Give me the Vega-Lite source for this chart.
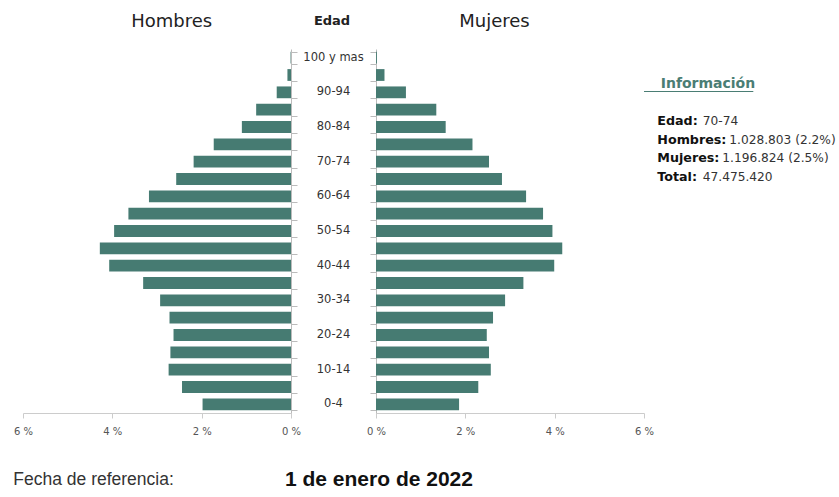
{
  "$schema": "https://vega.github.io/schema/vega-lite/v6.json",
  "padding": {"left": 13, "top": 13, "right": 0, "bottom": 0},
  "background": "white",
  "config": {"view": {"stroke": null}, "font": "DejaVu Sans"},
  "datasets": {
    "piramide": [
      {"edad": "100 y mas", "hombres": 0.01, "mujeres": 0.02},
      {"edad": "95-99", "hombres": 0.08, "mujeres": 0.19},
      {"edad": "90-94", "hombres": 0.32, "mujeres": 0.67},
      {"edad": "85-89", "hombres": 0.78, "mujeres": 1.35},
      {"edad": "80-84", "hombres": 1.10, "mujeres": 1.56},
      {"edad": "75-79", "hombres": 1.73, "mujeres": 2.16},
      {"edad": "70-74", "hombres": 2.18, "mujeres": 2.53},
      {"edad": "65-69", "hombres": 2.57, "mujeres": 2.82},
      {"edad": "60-64", "hombres": 3.18, "mujeres": 3.36},
      {"edad": "55-59", "hombres": 3.64, "mujeres": 3.74},
      {"edad": "50-54", "hombres": 3.96, "mujeres": 3.95},
      {"edad": "45-49", "hombres": 4.28, "mujeres": 4.17},
      {"edad": "40-44", "hombres": 4.07, "mujeres": 3.99},
      {"edad": "35-39", "hombres": 3.31, "mujeres": 3.30},
      {"edad": "30-34", "hombres": 2.93, "mujeres": 2.89},
      {"edad": "25-29", "hombres": 2.72, "mujeres": 2.62},
      {"edad": "20-24", "hombres": 2.63, "mujeres": 2.48},
      {"edad": "15-19", "hombres": 2.70, "mujeres": 2.53},
      {"edad": "10-14", "hombres": 2.74, "mujeres": 2.57},
      {"edad": "5-9", "hombres": 2.44, "mujeres": 2.29},
      {"edad": "0-4", "hombres": 1.98, "mujeres": 1.86}
    ],
    "info": [
      {"clave": "Información", "etiqueta": "Información", "valor": ""},
      {"clave": "Edad", "etiqueta": "Edad:", "valor": "70-74"},
      {"clave": "Hombres", "etiqueta": "Hombres:", "valor": "1.028.803 (2.2%)"},
      {"clave": "Mujeres", "etiqueta": "Mujeres:", "valor": "1.196.824 (2.5%)"},
      {"clave": "Total", "etiqueta": "Total:", "valor": "47.475.420"}
    ],
    "pie": [
      {"tipo": "etiqueta", "texto": "Fecha de referencia:"},
      {"tipo": "fecha", "texto": "1 de enero de 2022"}
    ]
  },
  "columns": 4,
  "align": "none",
  "bounds": "flush",
  "spacing": {"row": 57, "column": 0},
  "concat": [
    {
      "width": 268,
      "height": 364,
      "data": {"name": "piramide"},
      "title": {"text": "Hombres", "font": "DejaVu Sans", "fontSize": 18, "fontWeight": "normal", "color": "#222", "dx": 14.7, "offset": 3.8, "baseline": "alphabetic"},
      "mark": {"type": "bar", "color": "#467b72"},
      "encoding": {
        "y": {"field": "edad", "type": "nominal", "sort": null,
              "scale": {"paddingInner": 0.32, "paddingOuter": 0.16},
              "axis": {"orient": "right", "title": null, "labels": false, "ticks": true, "tickBand": "extent", "tickSize": 6, "tickColor": "#bbb", "domainColor": "#bbb", "grid": false}},
        "x": {"field": "hombres", "type": "quantitative",
              "scale": {"domain": [0, 6], "reverse": true, "nice": false},
              "axis": {"values": [0, 2, 4, 6], "labelExpr": "datum.value + ' %'", "title": null, "grid": false, "domainColor": "#ccc", "tickColor": "#ccc", "tickSize": 5, "labelFont": "DejaVu Sans", "labelFontSize": 10, "labelColor": "#555", "labelPadding": 8, "labelFlush": false, "labelOverlap": false}}
      }
    },
    {
      "width": 85,
      "height": 364,
      "data": {"name": "piramide"},
      "title": {"text": "Edad", "font": "DejaVu Sans", "fontSize": 13, "fontWeight": "bold", "color": "#222", "dx": -1.5, "offset": 10.8, "baseline": "alphabetic"},
      "mark": {"type": "text", "font": "DejaVu Sans", "fontSize": 11.5, "color": "#333", "baseline": "middle"},
      "encoding": {
        "y": {"field": "edad", "type": "nominal", "sort": null, "axis": null},
        "text": {"condition": {"test": "test(regexp('^[0-9]*0[- ]'), datum.edad)", "field": "edad"}, "value": ""}
      }
    },
    {
      "width": 268,
      "height": 364,
      "data": {"name": "piramide"},
      "title": {"text": "Mujeres", "font": "DejaVu Sans", "fontSize": 18, "fontWeight": "normal", "color": "#222", "dx": -15.5, "offset": 3.8, "baseline": "alphabetic"},
      "mark": {"type": "bar", "color": "#467b72"},
      "encoding": {
        "y": {"field": "edad", "type": "nominal", "sort": null,
              "scale": {"paddingInner": 0.32, "paddingOuter": 0.16},
              "axis": {"orient": "left", "title": null, "labels": false, "ticks": true, "tickBand": "extent", "tickSize": 6, "tickColor": "#bbb", "domainColor": "#bbb", "grid": false}},
        "x": {"field": "mujeres", "type": "quantitative",
              "scale": {"domain": [0, 6], "nice": false},
              "axis": {"values": [0, 2, 4, 6], "labelExpr": "datum.value + ' %'", "title": null, "grid": false, "domainColor": "#ccc", "tickColor": "#ccc", "tickSize": 5, "labelFont": "DejaVu Sans", "labelFontSize": 10, "labelColor": "#555", "labelPadding": 8, "labelFlush": false, "labelOverlap": false}}
      }
    },
    {
      "width": 92.6,
      "height": 144,
      "data": {"name": "info"},
      "encoding": {
        "y": {"field": "clave", "type": "nominal", "axis": null,
              "scale": {"type": "point", "domain": ["esp0", "Información", "esp1", "Edad", "Hombres", "Mujeres", "Total"], "padding": 0.89}}
      },
      "layer": [
        {"transform": [{"filter": "datum.clave === 'Información'"}],
         "mark": {"type": "text", "align": "left", "baseline": "middle", "font": "DejaVu Sans", "fontSize": 14, "fontWeight": "bold", "color": "#4a7d74", "dx": -29.6},
         "encoding": {"text": {"field": "etiqueta"}}},
        {"transform": [{"filter": "datum.clave === 'Información'"}],
         "mark": {"type": "rule", "color": "#4a7d74", "strokeWidth": 1.2, "yOffset": 7.5, "xOffset": 16.7},
         "encoding": {}},
        {"transform": [{"filter": "datum.clave !== 'Información'"}],
         "mark": {"type": "text", "align": "left", "baseline": "middle", "font": "DejaVu Sans", "fontSize": 12.7, "fontWeight": "bold", "color": "#111", "dx": -33},
         "encoding": {"text": {"field": "etiqueta"}}},
        {"transform": [{"filter": "datum.clave === 'Edad'"}],
         "mark": {"type": "text", "align": "left", "baseline": "middle", "font": "DejaVu Sans", "fontSize": 12.2, "color": "#333", "dx": 12.5},
         "encoding": {"text": {"field": "valor"}}},
        {"transform": [{"filter": "datum.clave === 'Hombres'"}],
         "mark": {"type": "text", "align": "left", "baseline": "middle", "font": "DejaVu Sans", "fontSize": 12.2, "color": "#333", "dx": 39},
         "encoding": {"text": {"field": "valor"}}},
        {"transform": [{"filter": "datum.clave === 'Mujeres'"}],
         "mark": {"type": "text", "align": "left", "baseline": "middle", "font": "DejaVu Sans", "fontSize": 12.2, "color": "#333", "dx": 32},
         "encoding": {"text": {"field": "valor"}}},
        {"transform": [{"filter": "datum.clave === 'Total'"}],
         "mark": {"type": "text", "align": "left", "baseline": "middle", "font": "DejaVu Sans", "fontSize": 12.2, "color": "#333", "dx": 12.5},
         "encoding": {"text": {"field": "valor"}}}
      ]
    },
    {
      "width": 268,
      "height": 20,
      "data": {"name": "pie"},
      "encoding": {
        "x": {"field": "tipo", "type": "nominal", "axis": null,
              "scale": {"type": "band", "domain": ["etiqueta", "fecha"], "paddingInner": 0, "paddingOuter": 0}}
      },
      "layer": [
        {"transform": [{"filter": "datum.tipo === 'etiqueta'"}],
         "mark": {"type": "text", "align": "left", "baseline": "middle", "font": "Liberation Sans", "fontSize": 17.5, "color": "#333", "dx": -9.7},
         "encoding": {"x": {"field": "tipo", "type": "nominal", "bandPosition": 0}, "text": {"field": "texto"}}},
        {"transform": [{"filter": "datum.tipo === 'fecha'"}],
         "mark": {"type": "text", "align": "left", "baseline": "middle", "font": "Liberation Sans", "fontSize": 21, "fontWeight": "bold", "color": "#111", "dx": -6},
         "encoding": {"x": {"field": "tipo", "type": "nominal", "bandPosition": 1}, "text": {"field": "texto"}}}
      ]
    }
  ]
}
